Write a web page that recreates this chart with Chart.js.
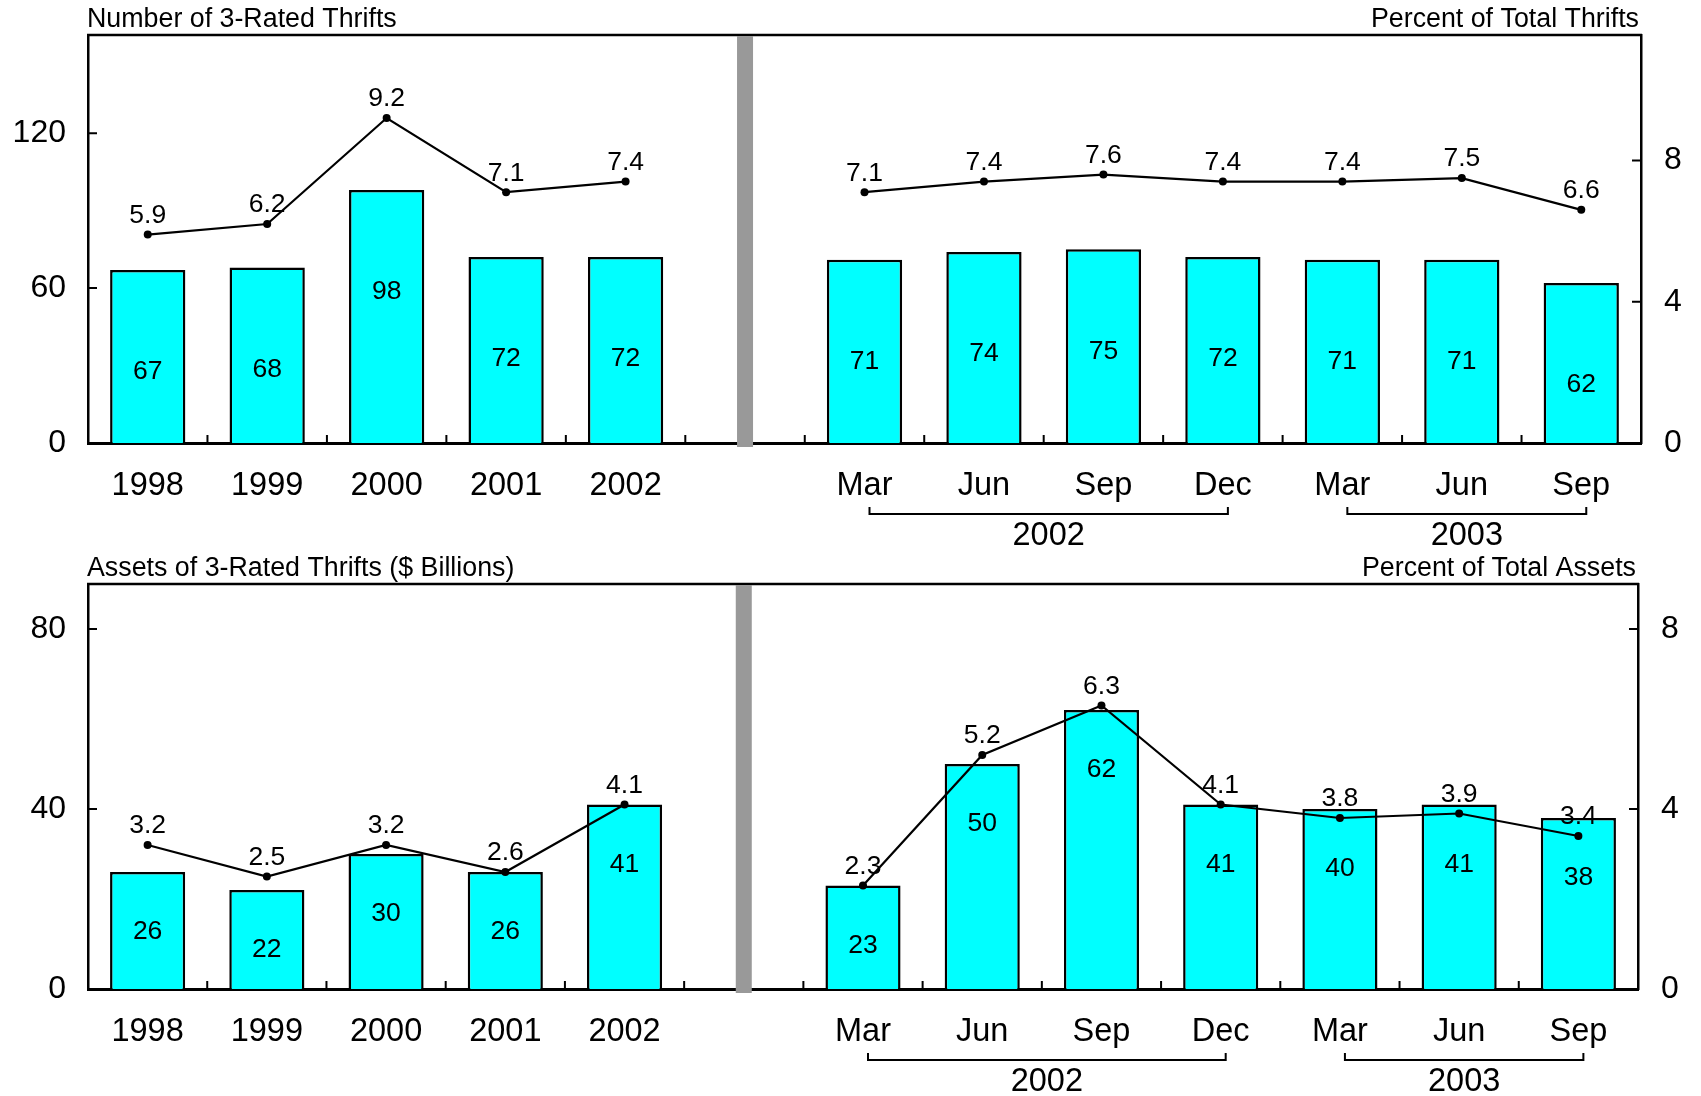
<!DOCTYPE html>
<html>
<head>
<meta charset="utf-8">
<script src="https://cdn.jsdelivr.net/npm/chart.js@4.4.0/dist/chart.umd.min.js"></script>
<style>
  html, body { margin: 0; padding: 0; background: #fff; }
  #wrap { position: relative; width: 1701px; height: 1096px; }
  canvas { position: absolute; left: 0; }
  #topCanvas { top: 0; }
  #bottomCanvas { top: 550px; }
</style>
</head>
<body>
<div id="wrap">
  <canvas id="topCanvas" width="1701" height="550"></canvas>
  <canvas id="bottomCanvas" width="1701" height="546"></canvas>
</div>
<script>
// categories: 5 years, one empty slot (the gray divider), then quarters
var categories = ["1998", "1999", "2000", "2001", "2002", "", "Mar", "Jun", "Sep", "Dec", "Mar", "Jun", "Sep"];
var gapIndex = 5;

var thriftCount = [67, 68, 98, 72, 72, null, 71, 74, 75, 72, 71, 71, 62];
var thriftPercent = [5.9, 6.2, 9.2, 7.1, 7.4, null, 7.1, 7.4, 7.6, 7.4, 7.4, 7.5, 6.6];
var assetAmount = [26, 22, 30, 26, 41, null, 23, 50, 62, 41, 40, 41, 38];
var assetPercent = [3.2, 2.5, 3.2, 2.6, 4.1, null, 2.3, 5.2, 6.3, 4.1, 3.8, 3.9, 3.4];

var topLeftTicks = [0, 60, 120];
var topRightTicks = [0, 4, 8];
var bottomLeftTicks = [0, 40, 80];
var bottomRightTicks = [0, 4, 8];

// year groups under the quarter labels
var yearLabels = ["2002", "2003"];
var yearFrom = [6, 10];
var yearTo = [9, 12];

var FONT = "'Liberation Sans', Arial, sans-serif";
Chart.defaults.font.family = FONT;
Chart.defaults.color = "#000";

function decorPlugin(cfg) {
  return {
    id: "decor",
    afterDatasetsDraw: function (chart) {
      var ctx = chart.ctx;
      ctx.save();
      ctx.fillStyle = "#000";
      ctx.textAlign = "center";
      ctx.textBaseline = "middle";
      ctx.font = "26.5px " + FONT;

      var barMeta = chart.getDatasetMeta(1);
      barMeta.data.forEach(function (el, i) {
        var v = chart.data.datasets[1].data[i];
        if (v == null) return;
        ctx.fillText(String(v), el.x, el.y + cfg.barLabelOffset);
      });

      var lineMeta = chart.getDatasetMeta(0);
      lineMeta.data.forEach(function (el, i) {
        var v = chart.data.datasets[0].data[i];
        if (v == null) return;
        ctx.fillText(v.toFixed(1), el.x, el.y - 19);
      });
      ctx.restore();
    },
    afterDraw: function (chart) {
      var ctx = chart.ctx;
      var area = chart.chartArea;
      var x = chart.scales.x;
      var y = chart.scales.y;
      var y1 = chart.scales.y1;
      ctx.save();
      ctx.strokeStyle = "#000";
      ctx.lineWidth = 2.5;

      // top border of the box
      ctx.beginPath();
      ctx.moveTo(area.left - 1, area.top);
      ctx.lineTo(area.right + 1, area.top);
      ctx.stroke();

      // inward y ticks
      ctx.lineWidth = 2;
      ctx.beginPath();
      cfg.leftTicks.forEach(function (v) {
        if (v === 0) return;
        var py = y.getPixelForValue(v);
        ctx.moveTo(area.left, py);
        ctx.lineTo(area.left + 9, py);
      });
      cfg.rightTicks.forEach(function (v) {
        if (v === 0) return;
        var py = y1.getPixelForValue(v);
        ctx.moveTo(area.right, py);
        ctx.lineTo(area.right - 9, py);
      });
      // upward category boundary ticks
      for (var i = 1; i < categories.length; i++) {
        var bx = (x.getPixelForValue(i - 1) + x.getPixelForValue(i)) / 2;
        ctx.moveTo(bx, area.bottom);
        ctx.lineTo(bx, area.bottom - 8);
      }
      ctx.stroke();

      // gray divider between annual and quarterly data
      var gx = x.getPixelForValue(gapIndex);
      ctx.fillStyle = "#999999";
      ctx.fillRect(gx - 8, area.top + 1, 16, area.bottom - area.top + 3);

      // year brackets
      ctx.fillStyle = "#000";
      ctx.font = "32.5px " + FONT;
      ctx.textAlign = "center";
      ctx.textBaseline = "middle";
      for (var k = 0; k < yearLabels.length; k++) {
        var x1 = x.getPixelForValue(yearFrom[k]) + 5;
        var x2 = x.getPixelForValue(yearTo[k]) + 5;
        var yb = area.bottom + 71;
        ctx.beginPath();
        ctx.moveTo(x1, yb - 7);
        ctx.lineTo(x1, yb);
        ctx.lineTo(x2, yb);
        ctx.lineTo(x2, yb - 7);
        ctx.stroke();
        ctx.fillText(yearLabels[k], (x1 + x2) / 2, area.bottom + 93);
      }

      // titles above the box
      ctx.font = "26.8px " + FONT;
      ctx.textBaseline = "alphabetic";
      ctx.textAlign = "left";
      ctx.fillText(cfg.leftTitle, area.left - 1, area.top - 8);
      ctx.textAlign = "right";
      ctx.fillText(cfg.rightTitle, area.right - 2, area.top - 8);
      ctx.restore();
    }
  };
}

function noEdgePadding(s) {
  s.paddingTop = 0;
  s.paddingBottom = 0;
}

function makeChart(canvasId, cfg) {
  var canvas = document.getElementById(canvasId);
  var H = canvas.height;
  return new Chart(canvas.getContext("2d"), {
    type: "bar",
    data: {
      labels: categories,
      datasets: [
        {
          type: "line",
          data: cfg.line,
          yAxisID: "y1",
          borderColor: "#000",
          backgroundColor: "#000",
          borderWidth: 2.2,
          pointRadius: 4,
          pointBackgroundColor: "#000",
          pointBorderWidth: 0,
          spanGaps: false,
          tension: 0,
          order: 0
        },
        {
          type: "bar",
          data: cfg.bars,
          yAxisID: "y",
          backgroundColor: "#00FFFF",
          borderColor: "#000",
          borderWidth: 2.5,
          barPercentage: 0.63,
          categoryPercentage: 1,
          order: 1
        }
      ]
    },
    options: {
      responsive: false,
      animation: false,
      layout: { padding: { top: cfg.plotTop, left: 0, right: 0, bottom: 0 } },
      plugins: {
        legend: { display: false },
        tooltip: { enabled: false }
      },
      scales: {
        x: {
          z: 1,
          offset: true,
          grid: { display: false, drawTicks: false },
          border: { display: true, color: "#000", width: 3 },
          ticks: { font: { size: 32.5 }, padding: 24, maxRotation: 0, autoSkip: false },
          afterFit: function (s) { s.height = H - cfg.plotBottom; }
        },
        y: {
          position: "left",
          min: 0,
          max: cfg.leftMax,
          grid: { display: false, drawTicks: false },
          border: { display: true, color: "#000", width: 2.5 },
          ticks: { font: { size: 32 }, padding: 22 },
          afterBuildTicks: function (s) {
            s.ticks = cfg.leftTicks.map(function (v) { return { value: v }; });
          },
          afterFit: function (s) { s.width = 88; noEdgePadding(s); }
        },
        y1: {
          position: "right",
          min: 0,
          max: cfg.rightMax,
          grid: { display: false, drawTicks: false },
          border: { display: true, color: "#000", width: 2.5 },
          ticks: { font: { size: 32 }, padding: 23 },
          afterBuildTicks: function (s) {
            s.ticks = cfg.rightTicks.map(function (v) { return { value: v }; });
          },
          afterFit: function (s) { s.width = 1701 - cfg.plotRight; noEdgePadding(s); }
        }
      }
    },
    plugins: [decorPlugin(cfg)]
  });
}

makeChart("topCanvas", {
  bars: thriftCount,
  line: thriftPercent,
  leftMax: 158,
  rightMax: 11.55,
  leftTicks: topLeftTicks,
  rightTicks: topRightTicks,
  leftTitle: "Number of 3-Rated Thrifts",
  rightTitle: "Percent of Total Thrifts",
  plotTop: 35,
  plotBottom: 443,
  plotRight: 1641,
  barLabelOffset: 102
});

makeChart("bottomCanvas", {
  bars: assetAmount,
  line: assetPercent,
  leftMax: 90,
  rightMax: 9,
  leftTicks: bottomLeftTicks,
  rightTicks: bottomRightTicks,
  leftTitle: "Assets of 3-Rated Thrifts ($ Billions)",
  rightTitle: "Percent of Total Assets",
  plotTop: 34,
  plotBottom: 439,
  plotRight: 1638,
  barLabelOffset: 60
});
</script>
</body>
</html>
